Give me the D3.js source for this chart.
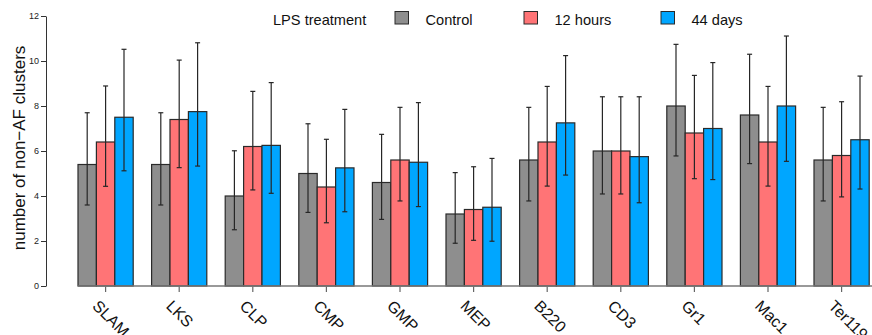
<!DOCTYPE html>
<html><head><meta charset="utf-8">
<script src="https://cdn.jsdelivr.net/npm/d3@7"></script>
<style>body{margin:0;background:#fff}svg{display:block}text{font-family:"Liberation Sans",Arial,sans-serif}</style>
</head><body>
<svg id="c" width="872" height="335"></svg>
<script>
const categories = ["SLAM","LKS","CLP","CMP","GMP","MEP","B220","CD3","Gr1","Mac1","Ter119"];
const seriesNames = ["Control","12 hours","44 days"];
const seriesColors = ["#8e8e8e","#ff7476","#00a6ff"];
const control   = [5.4, 5.4, 4.0, 5.0, 4.6, 3.2, 5.6, 6.0, 8.0, 7.6, 5.6];
const controlLo = [3.6, 3.6, 2.5, 3.27, 2.96, 1.9, 3.78, 4.09, 5.78, 5.44, 3.78];
const controlHi = [7.7, 7.7, 6.01, 7.21, 6.74, 5.04, 7.94, 8.41, 10.74, 10.3, 7.94];
const h12   = [6.4, 7.4, 6.2, 4.4, 5.6, 3.4, 6.4, 6.0, 6.8, 6.4, 5.8];
const h12Lo = [4.43, 5.26, 4.27, 2.81, 3.78, 2.03, 4.44, 4.09, 4.77, 4.44, 3.96];
const h12Hi = [8.89, 10.04, 8.65, 6.52, 7.94, 5.3, 8.87, 8.41, 9.36, 8.87, 8.19];
const d44   = [7.5, 7.75, 6.25, 5.25, 5.5, 3.5, 7.25, 5.75, 7.0, 8.0, 6.5];
const d44Lo = [5.12, 5.33, 4.12, 3.3, 3.53, 1.99, 4.93, 3.7, 4.73, 5.54, 4.31];
const d44Hi = [10.52, 10.81, 9.04, 7.85, 8.15, 5.67, 10.24, 8.41, 9.93, 11.11, 9.33];
const yTicks = [0, 2, 4, 6, 8, 10, 12];
const yLabel = "number of non\u2212AF clusters";
const legendTitle = "LPS treatment";

const vals = [control, h12, d44], los = [controlLo, h12Lo, d44Lo], his = [controlHi, h12Hi, d44Hi];
const rows = [];
categories.forEach((c, i) => seriesNames.forEach((s, j) => rows.push({c, s, j, v: vals[j][i], lo: los[j][i], hi: his[j][i]})));

const svg = d3.select("#c");
const y = d3.scaleLinear().domain([0, 12]).range([286, 16]);
const x = d3.scaleBand().domain(categories).range([59.6, 887.6]).paddingInner(0.25).paddingOuter(0.25);
const xs = d3.scaleBand().domain(seriesNames).range([0, x.bandwidth()]);

// bars
svg.append("g").selectAll("rect").data(rows).join("rect")
  .attr("x", d => x(d.c) + xs(d.s)).attr("y", d => y(d.v))
  .attr("width", xs.bandwidth()).attr("height", d => y(0) - y(d.v))
  .attr("fill", d => seriesColors[d.j]).attr("stroke", "#2a2a2a").attr("stroke-width", 1.2);

// error bars
const eb = svg.append("g").attr("stroke", "#262626").attr("stroke-width", 1.2);
rows.forEach(d => {
  const cx = x(d.c) + xs(d.s) + xs.bandwidth() / 2;
  eb.append("line").attr("x1", cx).attr("x2", cx).attr("y1", y(d.lo)).attr("y2", y(d.hi));
  eb.append("line").attr("x1", cx - 2.5).attr("x2", cx + 2.5).attr("y1", y(d.lo)).attr("y2", y(d.lo));
  eb.append("line").attr("x1", cx - 2.5).attr("x2", cx + 2.5).attr("y1", y(d.hi)).attr("y2", y(d.hi));
});

// y axis
const ya = svg.append("g").attr("transform", "translate(46,0)")
  .call(d3.axisLeft(y).tickValues(yTicks).tickSize(5).tickPadding(2).tickSizeOuter(0));
ya.select(".domain").attr("stroke", "#333");
ya.selectAll(".tick line").attr("stroke", "#333");
ya.selectAll("text").attr("font-size", 9).attr("fill", "#222").attr("font-family", "Liberation Sans, Arial, sans-serif");

// x axis
const xa = svg.append("g").attr("transform", "translate(0,286)")
  .call(d3.axisBottom(x).tickSize(6).tickSizeOuter(0));
xa.select(".domain").remove();
xa.append("line").attr("x1", 78).attr("x2", 872).attr("y1", 0).attr("y2", 0).attr("stroke", "#777").attr("stroke-width", 1.6);
xa.selectAll(".tick line").attr("stroke", "#666").attr("stroke-width", 1.2);
xa.selectAll(".tick text").attr("font-size", 16).attr("fill", "#111")
  .attr("font-family", "Liberation Sans, Arial, sans-serif")
  .attr("text-anchor", "start").attr("y", 0).attr("dy", 0)
  .attr("transform", "translate(-14,21) rotate(45)");

// y label
svg.append("text").attr("transform", "translate(25,148) rotate(-90)")
  .attr("text-anchor", "middle").attr("font-size", 17).attr("fill", "#111").text(yLabel);

// legend
svg.append("text").attr("x", 273).attr("y", 25).attr("font-size", 14.6).attr("fill", "#111").text(legendTitle);
const legX = [395, 524, 661];
seriesNames.forEach((s, j) => {
  svg.append("rect").attr("x", legX[j]).attr("y", 11.5).attr("width", 13.5).attr("height", 12.5)
    .attr("fill", seriesColors[j]).attr("stroke", "#2a2a2a").attr("stroke-width", 1);
  svg.append("text").attr("x", legX[j] + 30.5).attr("y", 25).attr("font-size", 14.6).attr("fill", "#111").text(s);
});

// next panel top tick label (clipped, as in the reference)
svg.append("text").attr("x", 38).attr("y", 341).attr("text-anchor", "end").attr("font-size", 9).attr("fill", "#222").text("10");
</script>
</body></html>
